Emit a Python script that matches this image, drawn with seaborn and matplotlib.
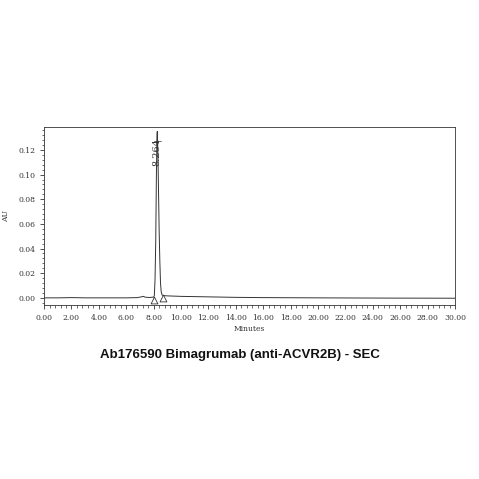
import matplotlib
matplotlib.use("Agg")
import matplotlib.pyplot as plt
from matplotlib.ticker import MultipleLocator, FormatStrFormatter
import seaborn as sns
import pandas as pd

times = [0.0, 1.0, 2.0, 2.6, 3.0, 4.0, 5.0, 6.0, 6.8, 7.1, 7.25, 7.4, 7.7, 8.0, 8.05, 8.1,
         8.15, 8.2, 8.24, 8.264, 8.3, 8.35, 8.4, 8.45, 8.5, 8.55, 8.62, 8.75, 9.0, 10.0,
         12.0, 14.0, 16.0, 20.0, 25.0, 30.0]
au = [0.0, 0.0, 0.0002, 0.0001, 0.0, 0.0, 0.0, 0.0, 0.0002, 0.0008, 0.0012, 0.0005, 0.0003,
      0.0006, 0.002, 0.015, 0.045, 0.1, 0.13, 0.135, 0.122, 0.09, 0.055, 0.03, 0.012,
      0.005, 0.0022, 0.0018, 0.0016, 0.0012, 0.0008, 0.0004, 0.0002, 0.0, -0.0002, -0.0003]
peak_rt = 8.264
peak_label = "8.264"
marker_t = [8.0, 8.65]
marker_au = [-0.0018, -0.0004]
title = "Ab176590 Bimagrumab (anti-ACVR2B) - SEC"

df = pd.DataFrame({"Minutes": times, "AU": au})

sns.set_style("white")
fig = plt.figure(figsize=(4.79, 4.79), dpi=100)
ax = fig.add_axes([0.092, 0.363, 0.858, 0.372])
sns.lineplot(data=df, x="Minutes", y="AU", ax=ax, color="#333333", linewidth=0.7)
ax.scatter(marker_t, marker_au, marker="^", s=24, facecolors="white",
           edgecolors="#333333", linewidths=0.6, zorder=3)
ax.text(peak_rt, 0.1185, peak_label, rotation=90, ha="center", va="center",
        fontsize=7, family="DejaVu Serif", color="#333333")
ax.plot([peak_rt - 0.25, peak_rt + 0.25], [0.127, 0.127], color="#333333", lw=0.5)

ax.set_xlim(0, 30)
ax.set_ylim(-0.0059, 0.1387)
ax.xaxis.set_major_locator(MultipleLocator(2))
ax.xaxis.set_minor_locator(MultipleLocator(0.4))
ax.yaxis.set_major_locator(MultipleLocator(0.02))
ax.yaxis.set_minor_locator(MultipleLocator(0.004))
ax.xaxis.set_major_formatter(FormatStrFormatter("%.2f"))
ax.yaxis.set_major_formatter(FormatStrFormatter("%.2f"))
ax.tick_params(axis="both", which="major", direction="out", length=3, width=0.6,
               labelsize=5.5, colors="#333333", bottom=True, left=True)
ax.tick_params(axis="both", which="minor", direction="out", length=1.8, width=0.5,
               bottom=True, left=True, colors="#333333")
for lab in ax.get_xticklabels() + ax.get_yticklabels():
    lab.set_family("DejaVu Serif")
for s in ax.spines.values():
    s.set_linewidth(0.6)
    s.set_color("#333333")
ax.set_xlabel("Minutes", fontsize=5.5, family="DejaVu Serif", color="#333333", labelpad=2)
ax.set_ylabel("AU", fontsize=5.5, family="DejaVu Serif", color="#333333", labelpad=6)
fig.text(0.5, 0.258, title, ha="center", va="center", fontsize=9.5,
         fontweight="bold", family="Liberation Sans", color="#111111")
fig.savefig("out.png", dpi=100, facecolor="white")
